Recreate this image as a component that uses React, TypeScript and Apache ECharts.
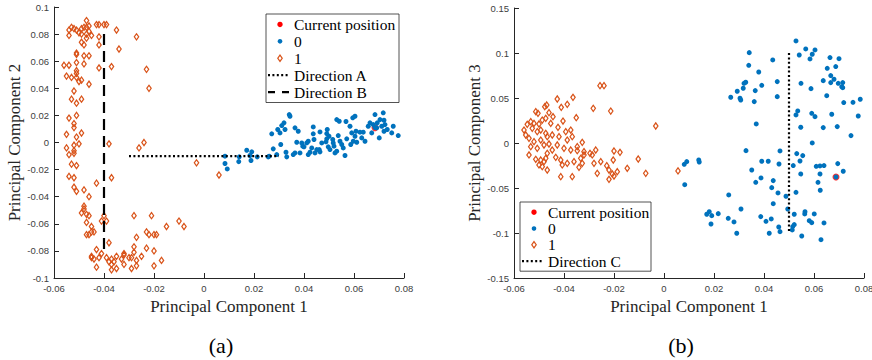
import React, { useEffect, useRef } from 'react';
import * as echarts from 'echarts';

// ---------- Data ----------
// Panel (a): Principal Component 1 vs Principal Component 2
const class0A: [number, number][] = [
  [0.0084, -0.0101], [0.0084, -0.0155], [0.0093, -0.0195], [0.0139, -0.0141], [0.0141, -0.0106],
  [0.0171, -0.0057], [0.0188, -0.0133], [0.0191, -0.0069], [0.0184, -0.0096], [0.0213, -0.0106],
  [0.0257, -0.0106], [0.0261, -0.0101], [0.0277, -0.0047], [0.0291, -0.0089], [0.0271, 0.0064],
  [0.0307, -0.0015], [0.0311, 0.0125], [0.032, 0.0145], [0.0295, 0.0096], [0.0304, 0.0071],
  [0.0324, 0.0096], [0.0341, 0.0206], [0.0344, 0.0194], [0.0328, -0.0072], [0.0331, -0.0106],
  [0.0364, 0.0108], [0.0377, 0.0083], [0.0371, 0.0002], [0.0364, -0.0077], [0.0357, -0.0089],
  [0.0391, -0.0003], [0.0384, -0.0077], [0.0395, -0.0027], [0.0417, 0.0009], [0.0424, -0.0072],
  [0.0431, -0.004], [0.0437, 0.0115], [0.0437, 0.0064], [0.044, 0.0022], [0.0464, 0.0078],
  [0.0461, -0.0052], [0.0464, -0.0069], [0.0471, -0.0003], [0.0493, 0.0096], [0.0491, 0.0066],
  [0.05, 0.0046], [0.0488, 0.0005], [0.0497, -0.0032], [0.0504, -0.0052], [0.0517, -0.0003],
  [0.052, -0.0027], [0.0531, -0.0064], [0.0524, -0.0077], [0.0531, 0.0169], [0.0541, 0.0157],
  [0.0537, 0.0051], [0.0544, 0.0009], [0.0551, -0.0015], [0.0557, -0.004], [0.0564, -0.0096],
  [0.0568, 0.0155], [0.0584, 0.012], [0.0571, 0.0027], [0.0587, -0.0015], [0.0591, 0.0071],
  [0.0597, 0.0009], [0.0595, 0.0182], [0.0604, 0.0194], [0.0604, 0.0046], [0.0608, 0.0083],
  [0.0624, 0.0076], [0.0631, 0.0034], [0.0637, 0.0076], [0.0644, 0.0009], [0.0657, 0.012],
  [0.0664, 0.0145], [0.0671, 0.0071], [0.0677, 0.0132], [0.0684, 0.0206], [0.0691, 0.0108],
  [0.0693, 0.0145], [0.0704, 0.0169], [0.0711, 0.012], [0.0717, 0.0219], [0.072, 0.0164],
  [0.0724, 0.0132], [0.0701, 0.0034], [0.0751, 0.0071], [0.0757, 0.012], [0.0777, 0.0051],
  [0.072, 0.0083], [0.0733, 0.0096], [0.0611, 0.0002], [0.0515, 0.0022], [0.0491, 0.0027],
  [0.0451, -0.0052], [0.0444, -0.0077], [0.0417, -0.0089], [0.0411, -0.0003], [0.04, -0.0032],
  [0.0684, 0.011],
];

const class1A: [number, number][] = [
  [-0.047, 0.09], [-0.053, 0.085], [-0.052, 0.084], [-0.054, 0.083], [-0.051, 0.083],
  [-0.049, 0.084], [-0.048, 0.085], [-0.047, 0.085], [-0.046, 0.086], [-0.043, 0.087],
  [-0.042, 0.087], [-0.04, 0.087], [-0.039, 0.087], [-0.035, 0.083], [-0.054, 0.079],
  [-0.05, 0.081], [-0.049, 0.08], [-0.047, 0.08], [-0.046, 0.082], [-0.045, 0.079],
  [-0.042, 0.078], [-0.027, 0.078], [-0.049, 0.074], [-0.048, 0.072], [-0.047, 0.077],
  [-0.042, 0.072], [-0.034, 0.069], [-0.051, 0.066], [-0.051, 0.065], [-0.048, 0.064],
  [-0.046, 0.064], [-0.048, 0.058], [-0.051, 0.059], [-0.056, 0.057], [-0.054, 0.057],
  [-0.037, 0.056], [-0.042, 0.055], [-0.023, 0.054], [-0.051, 0.053], [-0.051, 0.051],
  [-0.055, 0.049], [-0.053, 0.048], [-0.051, 0.048], [-0.05, 0.045], [-0.049, 0.046],
  [-0.046, 0.043], [-0.022, 0.04], [-0.052, 0.038], [-0.053, 0.032], [-0.051, 0.029],
  [-0.049, 0.032], [-0.054, 0.018], [-0.051, 0.02], [-0.052, 0.014], [-0.052, 0.011],
  [-0.055, 0.006], [-0.049, 0.007], [-0.051, 0.004], [-0.05, -0.001], [-0.055, -0.004],
  [-0.052, -0.002], [-0.052, -0.006], [-0.054, -0.009], [-0.052, -0.008], [-0.038, -0.001],
  [-0.026, -0.004], [-0.024, 0.0], [-0.053, -0.016], [-0.051, -0.017], [-0.054, -0.025],
  [-0.052, -0.026], [-0.037, -0.026], [-0.043, -0.03], [-0.052, -0.033], [-0.051, -0.036],
  [-0.048, -0.035], [-0.046, -0.04], [-0.048, -0.047], [-0.048, -0.049], [-0.047, -0.053],
  [-0.049, -0.052], [-0.046, -0.054], [-0.047, -0.059], [-0.04, -0.054], [-0.041, -0.058],
  [-0.039, -0.058], [-0.028, -0.054], [-0.021, -0.054], [-0.045, -0.062], [-0.045, -0.066],
  [-0.047, -0.068], [-0.046, -0.068], [-0.044, -0.066], [-0.023, -0.066], [-0.022, -0.068],
  [-0.02, -0.068], [-0.019, -0.068], [-0.015, -0.062], [-0.01, -0.058], [-0.008, -0.062],
  [-0.027, -0.07], [-0.038, -0.074], [-0.043, -0.079], [-0.041, -0.082], [-0.045, -0.084],
  [-0.045, -0.085], [-0.044, -0.086], [-0.042, -0.085], [-0.039, -0.085], [-0.038, -0.088],
  [-0.037, -0.086], [-0.035, -0.084], [-0.032, -0.082], [-0.032, -0.083], [-0.028, -0.077],
  [-0.028, -0.081], [-0.029, -0.085], [-0.027, -0.087], [-0.025, -0.084], [-0.023, -0.078],
  [-0.02, -0.08], [-0.017, -0.087], [-0.02, -0.091], [-0.043, -0.092], [-0.037, -0.09],
  [-0.035, -0.093], [-0.032, -0.09], [-0.029, -0.093], [-0.027, -0.091], [-0.037, -0.094],
  [-0.036, -0.088], [-0.033, -0.086], [-0.03, -0.085], [-0.003, -0.015], [0.006, -0.024],
];

// Panel (b): Principal Component 1 vs Principal Component 3
const class0B: [number, number][] = [
  [0.0528, 0.1134], [0.0567, 0.1045], [0.0604, 0.1034], [0.0593, 0.0986], [0.0584, 0.0934],
  [0.0541, 0.0978], [0.0341, 0.1004], [0.0664, 0.0949], [0.07, 0.0937], [0.0435, 0.0923],
  [0.0687, 0.0849], [0.0653, 0.083], [0.0339, 0.0863], [0.0379, 0.0789], [0.0667, 0.0749],
  [0.068, 0.0708], [0.0637, 0.0693], [0.0667, 0.0671], [0.0697, 0.0663], [0.0715, 0.0671],
  [0.0711, 0.0626], [0.0715, 0.0615], [0.0453, 0.0682], [0.0548, 0.0663], [0.0588, 0.0604],
  [0.0391, 0.0641], [0.0327, 0.0675], [0.032, 0.0663], [0.0317, 0.0608], [0.0293, 0.0575],
  [0.0365, 0.0582], [0.0267, 0.0508], [0.0304, 0.0497], [0.0307, 0.0478], [0.0361, 0.046],
  [0.0453, 0.0515], [0.0651, 0.0526], [0.0719, 0.0449], [0.0756, 0.0452], [0.0785, 0.0486],
  [0.0535, 0.0356], [0.0528, 0.0312], [0.0591, 0.033], [0.0604, 0.0293], [0.0671, 0.0319],
  [0.0777, 0.03], [0.0369, 0.0212], [0.0547, 0.0175], [0.0637, 0.0171], [0.0693, 0.0182],
  [0.0748, 0.0082], [0.0593, 0.0001], [0.0328, -0.0085], [0.0464, -0.0088], [0.0531, -0.0118],
  [0.0555, -0.014], [0.0544, -0.02], [0.0391, -0.0203], [0.0417, -0.0203], [0.046, -0.0233],
  [0.0517, -0.0251], [0.0609, -0.0259], [0.0624, -0.0255], [0.064, -0.0251], [0.0695, -0.0229],
  [0.0717, -0.0314], [0.0351, -0.03], [0.0547, -0.0344], [0.0624, -0.0344], [0.0388, -0.0388],
  [0.0437, -0.0418], [0.0367, -0.0437], [0.0616, -0.0437], [0.0625, -0.0525], [0.0431, -0.0496],
  [0.0456, -0.0555], [0.0488, -0.0592], [0.0528, -0.0548], [0.0259, -0.0577], [0.0437, -0.0674],
  [0.0495, -0.0733], [0.0308, -0.0733], [0.0181, -0.0763], [0.0171, -0.0792], [0.0191, -0.0807],
  [0.0217, -0.0785], [0.0257, -0.0837], [0.028, -0.0877], [0.0188, -0.09], [0.0387, -0.0818],
  [0.0408, -0.087], [0.0429, -0.0844], [0.0459, -0.0933], [0.0464, -0.0985], [0.0421, -0.1003],
  [0.0291, -0.1003], [0.0521, -0.0792], [0.0515, -0.0929], [0.0513, -0.0966], [0.0521, -0.0907],
  [0.0564, -0.0763], [0.0563, -0.0788], [0.0601, -0.0788], [0.0581, -0.0863], [0.0591, -0.0885],
  [0.064, -0.0888], [0.0551, -0.1033], [0.0628, -0.1074], [0.0091, -0.0207], [0.0081, -0.0237],
  [0.0139, -0.0188], [0.0141, -0.0211], [0.0083, -0.0463], [0.0688, -0.0378],
];

const class1B: [number, number][] = [
  [-0.0256, 0.0637], [-0.024, 0.0637], [-0.0427, 0.0489], [-0.0364, 0.0507], [-0.0469, 0.0422],
  [-0.0477, 0.0404], [-0.0411, 0.0396], [-0.0387, 0.043], [-0.0283, 0.0385], [-0.0213, 0.0355],
  [-0.0513, 0.0348], [-0.0504, 0.033], [-0.046, 0.0337], [-0.0444, 0.0292], [-0.0351, 0.0281],
  [-0.0404, 0.0244], [-0.0473, 0.0274], [-0.0487, 0.0255], [-0.0533, 0.0237], [-0.052, 0.0218],
  [-0.0547, 0.0207], [-0.05, 0.0211], [-0.0453, 0.0218], [-0.0424, 0.0174], [-0.0393, 0.0126],
  [-0.0373, 0.0144], [-0.0033, 0.0189], [-0.056, 0.0144], [-0.0553, 0.0089], [-0.0527, 0.0163],
  [-0.0507, 0.0126], [-0.0493, 0.0144], [-0.0473, 0.0107], [-0.0447, 0.0089], [-0.054, 0.0052],
  [-0.052, 0.0015], [-0.0493, 0.0033], [-0.0467, 0.007], [-0.042, 0.007], [-0.0387, 0.0033],
  [-0.0367, 0.007], [-0.0327, 0.0007], [-0.0533, -0.0041], [-0.0507, -0.0059], [-0.048, -0.0022],
  [-0.046, -0.0011], [-0.0427, -0.0022], [-0.04, -0.0059], [-0.0373, -0.0078], [-0.0347, -0.0041],
  [-0.0347, -0.0085], [-0.032, -0.0096], [-0.0296, -0.0115], [-0.0273, -0.0078], [-0.02, -0.0089],
  [-0.0176, -0.0104], [-0.054, -0.0133], [-0.0513, -0.0181], [-0.0493, -0.0189], [-0.0473, -0.017],
  [-0.0467, -0.0115], [-0.0447, -0.0078], [-0.0433, -0.0159], [-0.0413, -0.0189], [-0.0387, -0.0226],
  [-0.036, -0.0207], [-0.0333, -0.017], [-0.032, -0.0133], [-0.0287, -0.0133], [-0.028, -0.0226],
  [-0.0253, -0.0207], [-0.0203, -0.0189], [-0.0103, -0.0178], [-0.05, -0.0244], [-0.0487, -0.0263],
  [-0.0467, -0.03], [-0.048, -0.0207], [-0.0407, -0.0244], [-0.034, -0.027], [-0.0327, -0.0226],
  [-0.0229, -0.0252], [-0.022, -0.03], [-0.0207, -0.0344], [-0.0187, -0.0319], [-0.0147, -0.0281],
  [-0.0073, -0.0337], [-0.0413, -0.0374], [-0.0367, -0.0374], [-0.0267, -0.0337], [-0.022, -0.0404],
  [-0.02, -0.0367], [0.0056, -0.031],
];

const currentA: [number, number][] = [[0.0684, 0.011]];
const currentB: [number, number][] = [[0.0688, -0.0378]];

const directionA: [number, number][] = [[-0.03, -0.01], [0.03, -0.01]];
const directionB: [number, number][] = [[-0.04, 0.08], [-0.04, -0.08]];
const directionC: [number, number][] = [[0.05, 0.1], [0.05, -0.1]];

// axis ranges / tick intervals
const xRange = { min: -0.06, max: 0.08, interval: 0.02 };
const yRangeA = { min: -0.1, max: 0.1, interval: 0.02 };
const yRangeB = { min: -0.15, max: 0.15, interval: 0.05 };

const legendA = ['Current position', '0', '1', 'Direction A', 'Direction B'];
const legendB = ['Current position', '0', '1', 'Direction C'];
const captions = ['(a)', '(b)'];

// ---------- Styles ----------
const BLUE = '#0072BD';
const ORANGE = '#D95319';
const RED = '#FF0000';
const AXIS = '#262626';
const SERIF = "'Liberation Serif', 'DejaVu Serif', serif";
const SANS = "'Liberation Sans', Arial, sans-serif";

const fmt = (v: number) => String(parseFloat(v.toFixed(3)));

function makeXAxis(gridIndex: number) {
  return {
    type: 'value',
    gridIndex,
    ...xRange,
    name: 'Principal Component 1',
    nameLocation: 'middle',
    nameGap: 16,
    nameTextStyle: { fontFamily: SERIF, fontSize: 17, color: AXIS },
    axisLine: { show: true, onZero: false, lineStyle: { color: AXIS, width: 1 } },
    axisTick: { show: true, inside: true, length: 5, lineStyle: { color: AXIS, width: 1 } },
    axisLabel: { color: '#404040', fontSize: 9.5, fontFamily: SANS, margin: 5, formatter: fmt, showMinLabel: true, showMaxLabel: true },
    splitLine: { show: false },
  };
}

function makeYAxis(gridIndex: number, range: any, name: string) {
  return {
    type: 'value',
    gridIndex,
    ...range,
    name,
    nameLocation: 'middle',
    nameGap: 29,
    nameTextStyle: { fontFamily: SERIF, fontSize: 17, color: AXIS },
    axisLine: { show: true, onZero: false, lineStyle: { color: AXIS, width: 1 } },
    axisTick: { show: true, inside: true, length: 5, lineStyle: { color: AXIS, width: 1 } },
    axisLabel: { color: '#404040', fontSize: 9.5, fontFamily: SANS, margin: 5, formatter: fmt, showMinLabel: true, showMaxLabel: true },
    splitLine: { show: false },
  };
}

function scatterSeries(idx: number, data: [number, number][], kind: 'current' | 'c0' | 'c1') {
  if (kind === 'current') {
    return { type: 'scatter', xAxisIndex: idx, yAxisIndex: idx, data, symbol: 'circle', symbolSize: 7, itemStyle: { color: RED }, silent: true };
  }
  if (kind === 'c0') {
    return { type: 'scatter', xAxisIndex: idx, yAxisIndex: idx, data, symbol: 'circle', symbolSize: 5, itemStyle: { color: BLUE, opacity: 1 }, silent: true };
  }
  return {
    type: 'scatter', xAxisIndex: idx, yAxisIndex: idx, data, symbol: 'diamond', symbolSize: [4.4, 6.2],
    itemStyle: { color: 'rgba(255,255,255,0)', borderColor: ORANGE, borderWidth: 1.25, opacity: 1 }, silent: true,
  };
}

function lineSeries(idx: number, data: [number, number][], dash: number[]) {
  return {
    type: 'line', xAxisIndex: idx, yAxisIndex: idx, data, symbol: 'none', silent: true,
    lineStyle: { color: '#000', width: 2.2, type: dash, cap: 'butt' },
  };
}

function legendGraphic(x0: number, y0: number, w: number, rowH: number, labels: string[], dashes: number[][]) {
  const els: any[] = [];
  const h = rowH * labels.length + 4;
  els.push({ type: 'rect', shape: { x: x0, y: y0, width: w, height: h }, style: { fill: '#fff', stroke: AXIS, lineWidth: 0.8 }, z: 100 });
  const mx = x0 + 14;
  const tx = x0 + 28;
  labels.forEach((lab, i) => {
    const cy = y0 + 2 + rowH * (i + 0.5);
    if (i === 0) els.push({ type: 'circle', shape: { cx: mx, cy, r: 2.7 }, style: { fill: RED }, z: 101 });
    else if (i === 1) els.push({ type: 'circle', shape: { cx: mx, cy, r: 2.3 }, style: { fill: BLUE }, z: 101 });
    else if (i === 2) els.push({ type: 'polygon', shape: { points: [[mx, cy - 3.1], [mx + 2.2, cy], [mx, cy + 3.1], [mx - 2.2, cy]] }, style: { fill: 'none', stroke: ORANGE, lineWidth: 1.25 }, z: 101 });
    else els.push({ type: 'line', shape: { x1: x0 + 2, y1: cy, x2: x0 + 24, y2: cy }, style: { stroke: '#000', lineWidth: 2.2, lineDash: dashes[i - 3] }, z: 101 });
    els.push({ type: 'text', x: tx, y: cy, style: { text: lab, fontFamily: SERIF, fontSize: 15.5, fill: '#000', verticalAlign: 'middle', align: 'left' }, z: 101 });
  });
  return els;
}

export default function App() {
  const ref = useRef<HTMLDivElement>(null);
  useEffect(() => {
    document.body.style.margin = '0';
    if (!ref.current) return;
    const chart = echarts.init(ref.current, undefined, { renderer: 'svg' });
    const dotted = [2, 2.4];
    const dashed = [11, 6];
    const option: any = {
      animation: false,
      backgroundColor: '#fff',
      grid: [
        { left: 54, top: 7, width: 350, height: 271, containLabel: false, outerBoundsMode: 'none' },
        { left: 514, top: 8, width: 350, height: 270, containLabel: false, outerBoundsMode: 'none' },
      ],
      xAxis: [makeXAxis(0), makeXAxis(1)],
      yAxis: [makeYAxis(0, yRangeA, 'Principal Component 2'), makeYAxis(1, yRangeB, 'Principal Component 3')],
      series: [
        scatterSeries(0, currentA, 'current'),
        scatterSeries(0, class0A, 'c0'),
        scatterSeries(0, class1A, 'c1'),
        lineSeries(0, directionA, dotted),
        lineSeries(0, directionB, dashed),
        scatterSeries(1, currentB, 'current'),
        scatterSeries(1, class0B, 'c0'),
        scatterSeries(1, class1B, 'c1'),
        lineSeries(1, directionC, dotted),
      ],
      graphic: [
        ...legendGraphic(266, 14, 133, 16.9, legendA, [dotted, [7, 7]]),
        ...legendGraphic(520, 202, 131, 16.3, legendB, [dotted]),
        { type: 'text', x: 221, y: 345, style: { text: captions[0], fontFamily: SERIF, fontSize: 22, fill: '#000', align: 'center', verticalAlign: 'middle' } },
        { type: 'text', x: 681, y: 345, style: { text: captions[1], fontFamily: SERIF, fontSize: 22, fill: '#000', align: 'center', verticalAlign: 'middle' } },
      ],
    };
    chart.setOption(option);
    return () => chart.dispose();
  }, []);
  return <div ref={ref} style={{ width: 872, height: 360 }} />;
}
